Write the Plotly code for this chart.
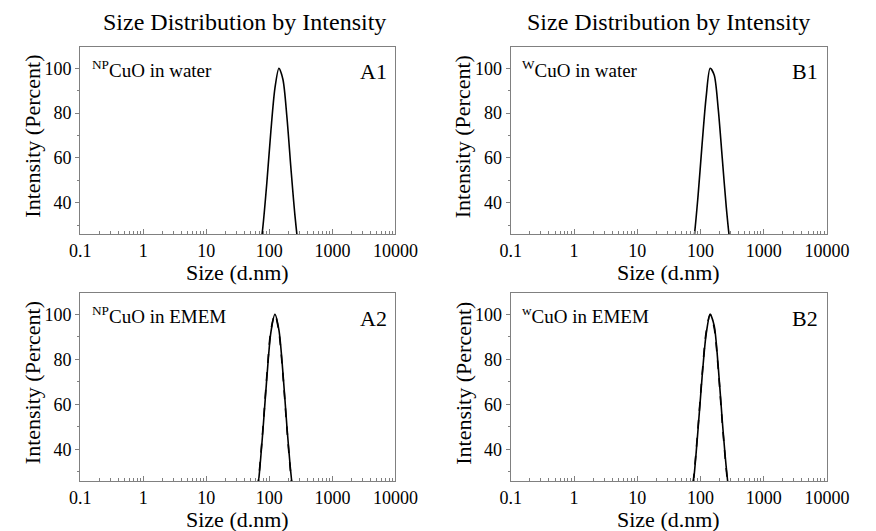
import plotly.graph_objects as go

# ---- data ----
sizes_nm = [50.75, 58.77, 68.06, 78.82, 91.28, 105.7, 122.4, 141.8, 164.2,
            190.1, 220.2, 255.0, 295.3, 342.0, 396.1]

a1_water = [3, 7, 15, 29, 49, 72, 91, 100, 95, 78, 55, 34, 18, 8, 3]
a2_emem_solid = [6, 13, 27, 48, 72, 92, 100, 93, 74, 50, 29, 14, 6, 2, 1]
a2_emem_dash = [7, 14, 28, 49, 73, 93, 100, 92, 73, 49, 28, 13, 5, 2, 1]
b1_water = [2, 5, 12, 24, 43, 66, 87, 100, 97, 82, 60, 38, 21, 10, 4]
b2_emem_solid = [2, 6, 14, 28, 49, 72, 91, 100, 95, 77, 53, 32, 16, 7, 3]
b2_emem_dash = [2, 6, 15, 29, 50, 73, 92, 100, 94, 76, 52, 31, 15, 6, 2]

x_tick_vals = [0.1, 1, 10, 100, 1000, 10000]
x_tick_text = ["0.1", "1", "10", "100", "1000", "10000"]

panel_titles = ["Size Distribution by Intensity", "Size Distribution by Intensity"]
panel_notes = ["<sup>NP</sup>CuO in water", "<sup>W</sup>CuO in water",
               "<sup>NP</sup>CuO in EMEM", "<sup>w</sup>CuO in EMEM"]
panel_labels = ["A1", "B1", "A2", "B2"]
x_title = "Size (d.nm)"
y_title = "Intensity (Percent)"

W, H = 876, 531
FONT = "Liberation Serif"
FRAME = "#808080"

# pixel geometry of plot boxes: (left, right, top, bottom)
boxes = [(72, 400, 47, 234),   # A1
         (520, 849, 47, 234),  # B1
         (72, 400, 293, 481),  # A2
         (520, 849, 293, 481)] # B2

fig = go.Figure()

def px_x(x):
    return x / W

def px_y(y):
    return 1 - y / H

series = [
    [(a1_water, "solid")],
    [(b1_water, "solid")],
    [(a2_emem_solid, "solid"), (a2_emem_dash, "dash")],
    [(b2_emem_solid, "solid"), (b2_emem_dash, "dash")],
]

for i, (l, r, t, b) in enumerate(boxes):
    n = "" if i == 0 else str(i + 1)
    xa = "x" + n
    ya = "y" + n
    for vals, dash in series[i]:
        fig.add_trace(go.Scatter(x=sizes_nm, y=vals, mode="lines",
                                 line=dict(color="black", width=1.6, dash=dash,
                                           shape="spline", smoothing=0.8),
                                 xaxis=xa, yaxis=ya, showlegend=False,
                                 cliponaxis=True))
    fig.layout["xaxis" + n] = dict(
        domain=[px_x(l), px_x(r)], anchor=ya, type="log", range=[-1, 4],
        tickvals=x_tick_vals, ticktext=x_tick_text,
        ticks="inside", ticklen=5, tickcolor=FRAME, tickwidth=1,
        minor=dict(ticks="inside", ticklen=3, tickcolor=FRAME, dtick="D1", showgrid=False),
        showline=True, mirror=True, linecolor=FRAME, linewidth=1.2,
        showgrid=False, zeroline=False,
        tickfont=dict(family=FONT, size=18, color="black"),
    )
    fig.layout["yaxis" + n] = dict(
        domain=[px_y(b), px_y(t)], anchor=xa, range=[26, 109.5],
        tick0=0, dtick=20,
        ticks="outside", ticklen=4, tickcolor=FRAME, tickwidth=1,
        minor=dict(ticks="outside", ticklen=2, tickcolor=FRAME, dtick=10, tick0=0, showgrid=False),
        showline=True, mirror=True, linecolor=FRAME, linewidth=1.2,
        showgrid=False, zeroline=False,
        tickfont=dict(family=FONT, size=18, color="black"),
    )

annotations = []
# main titles above the top panels
for j, (cx) in enumerate([243, 684]):
    annotations.append(dict(text=panel_titles[j], x=px_x(cx), y=px_y(22),
                            xref="paper", yref="paper", showarrow=False,
                            xanchor="center", yanchor="middle",
                            font=dict(family=FONT, size=24, color="black")))
for i, (l, r, t, b) in enumerate(boxes):
    # x axis title
    annotations.append(dict(text=x_title, x=px_x((l + r) / 2), y=px_y(b + 38),
                            xref="paper", yref="paper", showarrow=False,
                            xanchor="center", yanchor="middle",
                            font=dict(family=FONT, size=22, color="black")))
    # y axis title
    annotations.append(dict(text=y_title, x=px_x(l - 50), y=px_y((t + b) / 2 - 4),
                            xref="paper", yref="paper", showarrow=False,
                            xanchor="center", yanchor="middle", textangle=-90,
                            font=dict(family=FONT, size=22, color="black")))
    # note
    annotations.append(dict(text=panel_notes[i], x=px_x(l + 10), y=px_y(t + 22),
                            xref="paper", yref="paper", showarrow=False,
                            xanchor="left", yanchor="middle",
                            font=dict(family=FONT, size=19, color="black")))
    # panel label
    annotations.append(dict(text=panel_labels[i], x=px_x(r - 7), y=px_y(t + 25),
                            xref="paper", yref="paper", showarrow=False,
                            xanchor="right", yanchor="middle",
                            font=dict(family=FONT, size=22, color="black")))

fig.update_layout(width=W, height=H, margin=dict(l=0, r=0, t=0, b=0),
                  paper_bgcolor="white", plot_bgcolor="white",
                  annotations=annotations, showlegend=False)

fig.write_html("out.html")
